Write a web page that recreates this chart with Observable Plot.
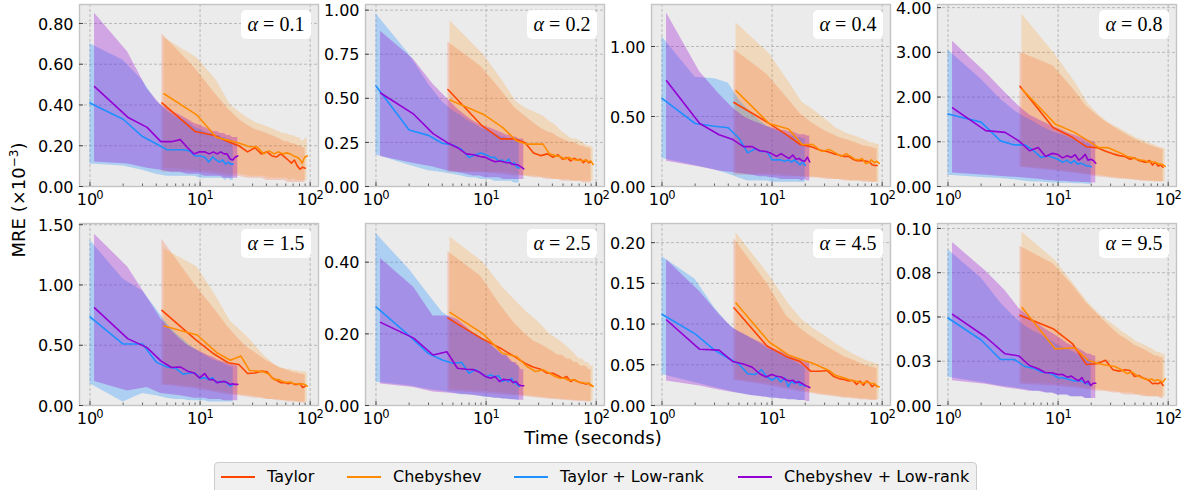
<!DOCTYPE html>
<html>
<head>
<meta charset="utf-8">
<script src="https://cdn.jsdelivr.net/npm/d3@7"></script>
<script src="https://cdn.jsdelivr.net/npm/@observablehq/plot@0.6"></script>
<style>
html, body { margin: 0; padding: 0; background: #fff; }
#root { position: relative; width: 1188px; height: 490px; overflow: hidden; font-family: "DejaVu Sans", sans-serif; color: #000; }
.panel { position: absolute; }
.alpha { position: absolute; width: 70px; height: 29px; background: #fff; border-radius: 5px; font-family: "Liberation Serif", serif; font-size: 20px; line-height: 29px; text-align: center; white-space: nowrap; }
.ylab { position: absolute; left: 18px; top: 200px; transform: translate(-50%, -50%) rotate(-90deg); font-size: 18px; white-space: nowrap; }
.xlab { position: absolute; left: 593px; top: 437px; transform: translate(-50%, -50%); font-size: 18px; white-space: nowrap; }
.legend { position: absolute; left: 214px; top: 462px; width: 763px; height: 34px; box-sizing: border-box; border: 1px solid #cccccc; border-radius: 4px; background: #f0f0f0; white-space: nowrap; }
.legend .sw { position: absolute; top: 13px; width: 34px; height: 2px; }
.legend .tx { position: absolute; top: 4px; font-size: 16px; line-height: 20px; white-space: nowrap; }
</style>
</head>
<body>
<div id="root"></div>
<script>
// ---------------- data ----------------
const seriesNames = ["Taylor", "Chebyshev", "Taylor + Low-rank", "Chebyshev + Low-rank"];
const seriesColors = ["#ff4500", "#ff8c00", "#1e90ff", "#9400d3"];
const alphaLabels = ["0.1", "0.2", "0.4", "0.8", "1.5", "2.5", "4.5", "9.5"];

const xTaylor = [4.5, 9, 13.5, 18, 22.5, 27, 31.5, 36, 40.5, 45, 49.5, 54, 58.5, 63, 67.5, 72, 76.5, 81, 85.5, 90];
const xCheb = [4.7, 9.4, 14.1, 18.8, 23.5, 28.2, 32.9, 37.6, 42.3, 47, 51.7, 56.4, 61.1, 65.8, 70.5, 75.2, 79.9, 84.6, 89.3, 94];
const xTaylorLR = [1, 2, 3, 4, 5, 6, 7, 8, 9, 10, 11, 12, 13, 14, 15, 16, 17, 18, 19, 20];
const xChebLR = [1.1, 2.2, 3.3, 4.4, 5.5, 6.6, 7.7, 8.8, 9.9, 11, 12.1, 13.2, 14.3, 15.4, 16.5, 17.6, 18.7, 19.8, 20.9, 22];

const meanTaylor = [
  [0.41, 0.27, 0.25, 0.22, 0.20, 0.17, 0.19, 0.16, 0.17, 0.15, 0.145, 0.16, 0.145, 0.13, 0.115, 0.13, 0.10, 0.085, 0.095, 0.09],
  [0.55, 0.35, 0.27, 0.27, 0.25, 0.19, 0.175, 0.185, 0.165, 0.18, 0.155, 0.165, 0.145, 0.16, 0.15, 0.155, 0.135, 0.15, 0.135, 0.14],
  [0.60, 0.46, 0.37, 0.30, 0.285, 0.26, 0.25, 0.235, 0.225, 0.215, 0.215, 0.195, 0.185, 0.185, 0.185, 0.18, 0.175, 0.155, 0.15, 0.15],
  [2.24, 1.32, 1.10, 0.89, 0.87, 0.79, 0.73, 0.69, 0.67, 0.61, 0.64, 0.58, 0.56, 0.54, 0.58, 0.48, 0.54, 0.46, 0.48, 0.43],
  [0.79, 0.55, 0.425, 0.355, 0.34, 0.265, 0.27, 0.285, 0.28, 0.23, 0.21, 0.19, 0.19, 0.18, 0.19, 0.175, 0.175, 0.18, 0.15, 0.16],
  [0.244, 0.188, 0.16, 0.137, 0.118, 0.107, 0.101, 0.09, 0.09, 0.083, 0.076, 0.081, 0.067, 0.072, 0.067, 0.064, 0.062, 0.06, 0.062, 0.055],
  [0.12, 0.073, 0.06, 0.054, 0.042, 0.042, 0.043, 0.036, 0.033, 0.032, 0.030, 0.031, 0.026, 0.030, 0.025, 0.030, 0.028, 0.023, 0.026, 0.0235],
  [0.051, 0.0434, 0.035, 0.0232, 0.0236, 0.0255, 0.0202, 0.0194, 0.0202, 0.0198, 0.0164, 0.017, 0.0157, 0.015, 0.014, 0.0123, 0.0126, 0.0123, 0.0132, 0.0113]
];
const loTaylor = [
  [0.07, 0.07, 0.06, 0.05, 0.05, 0.04, 0.04, 0.04, 0.03, 0.03, 0.03, 0.03, 0.03, 0.02, 0.02, 0.02, 0.02, 0.02, 0.02, 0.02],
  [0.08, 0.08, 0.07, 0.06, 0.06, 0.05, 0.05, 0.04, 0.04, 0.04, 0.03, 0.03, 0.03, 0.03, 0.03, 0.03, 0.02, 0.02, 0.02, 0.02],
  [0.08, 0.08, 0.07, 0.07, 0.06, 0.06, 0.05, 0.05, 0.05, 0.04, 0.04, 0.04, 0.04, 0.04, 0.03, 0.03, 0.03, 0.03, 0.03, 0.03],
  [0.43, 0.35, 0.30, 0.26, 0.22, 0.20, 0.18, 0.17, 0.16, 0.15, 0.14, 0.13, 0.12, 0.12, 0.11, 0.11, 0.10, 0.10, 0.10, 0.10],
  [0.17, 0.14, 0.11, 0.09, 0.08, 0.07, 0.06, 0.06, 0.05, 0.05, 0.04, 0.04, 0.04, 0.03, 0.03, 0.03, 0.03, 0.02, 0.02, 0.02],
  [0.040, 0.035, 0.030, 0.028, 0.025, 0.022, 0.020, 0.018, 0.017, 0.016, 0.015, 0.014, 0.013, 0.012, 0.012, 0.011, 0.011, 0.010, 0.010, 0.010],
  [0.031, 0.025, 0.020, 0.017, 0.015, 0.013, 0.012, 0.011, 0.010, 0.009, 0.009, 0.008, 0.008, 0.007, 0.007, 0.007, 0.006, 0.006, 0.006, 0.006],
  [0.012, 0.011, 0.010, 0.009, 0.008, 0.008, 0.007, 0.007, 0.006, 0.006, 0.006, 0.006, 0.005, 0.005, 0.005, 0.005, 0.005, 0.005, 0.004, 0.004]
];
const hiTaylor = [
  [0.75, 0.58, 0.46, 0.38, 0.33, 0.30, 0.28, 0.27, 0.26, 0.25, 0.24, 0.23, 0.22, 0.22, 0.21, 0.21, 0.20, 0.20, 0.19, 0.19],
  [0.82, 0.68, 0.55, 0.45, 0.40, 0.36, 0.33, 0.31, 0.30, 0.28, 0.27, 0.26, 0.25, 0.25, 0.24, 0.23, 0.23, 0.22, 0.22, 0.21],
  [0.98, 0.80, 0.64, 0.52, 0.46, 0.42, 0.39, 0.37, 0.35, 0.34, 0.33, 0.32, 0.31, 0.30, 0.29, 0.29, 0.28, 0.28, 0.27, 0.27],
  [3.00, 2.70, 2.20, 1.80, 1.60, 1.45, 1.35, 1.25, 1.18, 1.12, 1.06, 1.02, 0.98, 0.95, 0.92, 0.90, 0.88, 0.86, 0.84, 0.82],
  [1.38, 1.00, 0.80, 0.65, 0.55, 0.48, 0.44, 0.40, 0.37, 0.35, 0.33, 0.31, 0.30, 0.29, 0.28, 0.27, 0.27, 0.26, 0.26, 0.25],
  [0.43, 0.36, 0.28, 0.23, 0.20, 0.18, 0.17, 0.16, 0.15, 0.14, 0.14, 0.13, 0.13, 0.12, 0.12, 0.11, 0.11, 0.11, 0.10, 0.10],
  [0.205, 0.15, 0.11, 0.095, 0.085, 0.078, 0.072, 0.068, 0.064, 0.060, 0.058, 0.056, 0.054, 0.052, 0.050, 0.049, 0.048, 0.047, 0.046, 0.045],
  [0.090, 0.080, 0.068, 0.058, 0.052, 0.047, 0.043, 0.040, 0.038, 0.036, 0.034, 0.033, 0.032, 0.031, 0.030, 0.029, 0.028, 0.028, 0.027, 0.027]
];

const meanCheb = [
  [0.455, 0.35, 0.24, 0.225, 0.21, 0.195, 0.195, 0.16, 0.175, 0.16, 0.17, 0.16, 0.165, 0.16, 0.15, 0.145, 0.135, 0.115, 0.145, 0.15],
  [0.49, 0.41, 0.335, 0.26, 0.24, 0.24, 0.24, 0.185, 0.175, 0.17, 0.155, 0.165, 0.155, 0.15, 0.15, 0.145, 0.15, 0.14, 0.145, 0.125],
  [0.685, 0.45, 0.41, 0.30, 0.30, 0.25, 0.265, 0.24, 0.215, 0.235, 0.215, 0.195, 0.19, 0.20, 0.165, 0.17, 0.19, 0.17, 0.18, 0.165],
  [2.18, 1.40, 1.21, 1.02, 0.87, 0.87, 0.80, 0.74, 0.67, 0.65, 0.61, 0.59, 0.58, 0.54, 0.56, 0.54, 0.52, 0.50, 0.49, 0.45],
  [0.66, 0.585, 0.44, 0.375, 0.41, 0.29, 0.285, 0.28, 0.26, 0.215, 0.215, 0.20, 0.19, 0.195, 0.18, 0.18, 0.175, 0.18, 0.175, 0.16],
  [0.26, 0.20, 0.146, 0.137, 0.109, 0.095, 0.10, 0.09, 0.081, 0.076, 0.076, 0.07, 0.072, 0.07, 0.064, 0.064, 0.062, 0.062, 0.058, 0.053],
  [0.126, 0.078, 0.062, 0.056, 0.052, 0.047, 0.043, 0.037, 0.035, 0.033, 0.031, 0.030, 0.029, 0.027, 0.029, 0.028, 0.027, 0.027, 0.0235, 0.023],
  [0.0553, 0.032, 0.0326, 0.0255, 0.0236, 0.0226, 0.022, 0.0202, 0.018, 0.0189, 0.017, 0.016, 0.015, 0.0145, 0.015, 0.014, 0.0145, 0.014, 0.0132, 0.015]
];
const loCheb = [
  [0.09, 0.08, 0.07, 0.06, 0.06, 0.05, 0.05, 0.05, 0.04, 0.04, 0.04, 0.04, 0.04, 0.03, 0.04, 0.03, 0.03, 0.03, 0.03, 0.03],
  [0.09, 0.08, 0.08, 0.07, 0.06, 0.06, 0.05, 0.05, 0.04, 0.04, 0.04, 0.04, 0.03, 0.03, 0.03, 0.03, 0.03, 0.03, 0.03, 0.03],
  [0.09, 0.09, 0.08, 0.07, 0.07, 0.06, 0.06, 0.05, 0.05, 0.05, 0.04, 0.04, 0.04, 0.04, 0.04, 0.04, 0.03, 0.03, 0.03, 0.03],
  [0.45, 0.38, 0.32, 0.28, 0.25, 0.22, 0.20, 0.18, 0.17, 0.16, 0.15, 0.14, 0.13, 0.13, 0.12, 0.12, 0.11, 0.11, 0.11, 0.10],
  [0.18, 0.15, 0.12, 0.10, 0.09, 0.08, 0.07, 0.06, 0.05, 0.05, 0.05, 0.04, 0.04, 0.04, 0.04, 0.03, 0.03, 0.03, 0.03, 0.03],
  [0.045, 0.040, 0.035, 0.030, 0.027, 0.025, 0.022, 0.020, 0.019, 0.018, 0.017, 0.016, 0.015, 0.014, 0.014, 0.013, 0.013, 0.012, 0.012, 0.012],
  [0.032, 0.027, 0.022, 0.019, 0.016, 0.014, 0.013, 0.012, 0.011, 0.010, 0.010, 0.009, 0.009, 0.008, 0.008, 0.008, 0.007, 0.007, 0.007, 0.007],
  [0.013, 0.012, 0.011, 0.010, 0.009, 0.008, 0.008, 0.007, 0.007, 0.007, 0.006, 0.006, 0.006, 0.005, 0.005, 0.005, 0.005, 0.005, 0.005, 0.005]
];
const hiCheb = [
  [0.73, 0.63, 0.52, 0.40, 0.36, 0.33, 0.31, 0.30, 0.29, 0.28, 0.27, 0.26, 0.26, 0.25, 0.25, 0.24, 0.24, 0.22, 0.23, 0.24],
  [0.94, 0.75, 0.60, 0.48, 0.44, 0.42, 0.40, 0.37, 0.35, 0.32, 0.30, 0.28, 0.27, 0.27, 0.26, 0.25, 0.24, 0.23, 0.23, 0.22],
  [1.17, 0.95, 0.75, 0.60, 0.55, 0.50, 0.46, 0.42, 0.40, 0.38, 0.37, 0.36, 0.35, 0.34, 0.33, 0.32, 0.31, 0.31, 0.30, 0.30],
  [3.85, 2.95, 2.35, 1.85, 1.60, 1.45, 1.35, 1.28, 1.20, 1.14, 1.08, 1.05, 1.02, 0.98, 0.95, 0.93, 0.90, 0.88, 0.86, 0.85],
  [1.30, 1.15, 0.90, 0.70, 0.62, 0.55, 0.48, 0.42, 0.38, 0.34, 0.32, 0.31, 0.30, 0.30, 0.29, 0.29, 0.28, 0.28, 0.28, 0.27],
  [0.47, 0.40, 0.33, 0.29, 0.26, 0.24, 0.22, 0.20, 0.19, 0.18, 0.17, 0.16, 0.15, 0.14, 0.13, 0.13, 0.12, 0.12, 0.11, 0.11],
  [0.212, 0.16, 0.125, 0.105, 0.095, 0.088, 0.082, 0.076, 0.072, 0.068, 0.065, 0.062, 0.060, 0.058, 0.056, 0.054, 0.053, 0.052, 0.051, 0.050],
  [0.098, 0.082, 0.068, 0.058, 0.052, 0.048, 0.045, 0.042, 0.040, 0.038, 0.036, 0.035, 0.034, 0.033, 0.032, 0.031, 0.030, 0.030, 0.029, 0.029]
];

const meanTaylorLR = [
  [0.41, 0.33, 0.245, 0.21, 0.18, 0.18, 0.18, 0.175, 0.15, 0.15, 0.145, 0.12, 0.145, 0.13, 0.12, 0.13, 0.11, 0.12, 0.11, 0.11],
  [0.57, 0.32, 0.29, 0.245, 0.235, 0.21, 0.165, 0.18, 0.19, 0.18, 0.165, 0.165, 0.145, 0.15, 0.135, 0.155, 0.125, 0.135, 0.11, 0.105],
  [0.63, 0.45, 0.43, 0.42, 0.345, 0.24, 0.27, 0.25, 0.25, 0.19, 0.19, 0.19, 0.18, 0.19, 0.175, 0.19, 0.17, 0.155, 0.175, 0.15],
  [1.62, 1.44, 1.02, 0.93, 0.93, 0.80, 0.65, 0.69, 0.65, 0.61, 0.54, 0.59, 0.52, 0.58, 0.50, 0.52, 0.50, 0.46, 0.46, 0.44],
  [0.735, 0.51, 0.51, 0.36, 0.32, 0.31, 0.26, 0.27, 0.27, 0.225, 0.23, 0.215, 0.23, 0.19, 0.20, 0.195, 0.20, 0.175, 0.16, 0.175],
  [0.275, 0.195, 0.145, 0.127, 0.118, 0.12, 0.09, 0.10, 0.09, 0.08, 0.085, 0.08, 0.083, 0.067, 0.072, 0.067, 0.076, 0.064, 0.06, 0.053],
  [0.112, 0.088, 0.068, 0.058, 0.051, 0.039, 0.038, 0.044, 0.035, 0.031, 0.035, 0.029, 0.034, 0.023, 0.030, 0.027, 0.030, 0.025, 0.026, 0.0235],
  [0.0494, 0.037, 0.026, 0.026, 0.022, 0.021, 0.019, 0.0185, 0.0175, 0.0157, 0.0157, 0.015, 0.0145, 0.0138, 0.0138, 0.014, 0.0132, 0.0123, 0.0123, 0.0113]
];
const loTaylorLR = [
  [0.11, 0.10, 0.08, 0.06, 0.05, 0.05, 0.05, 0.05, 0.05, 0.04, 0.04, 0.04, 0.04, 0.04, 0.04, 0.04, 0.03, 0.04, 0.03, 0.03],
  [0.18, 0.12, 0.09, 0.08, 0.07, 0.06, 0.05, 0.05, 0.04, 0.04, 0.04, 0.03, 0.03, 0.03, 0.03, 0.03, 0.03, 0.02, 0.02, 0.02],
  [0.20, 0.15, 0.12, 0.09, 0.06, 0.04, 0.04, 0.04, 0.04, 0.03, 0.03, 0.03, 0.03, 0.03, 0.03, 0.03, 0.03, 0.03, 0.03, 0.03],
  [0.25, 0.20, 0.18, 0.15, 0.12, 0.10, 0.10, 0.09, 0.08, 0.08, 0.07, 0.07, 0.07, 0.06, 0.06, 0.06, 0.06, 0.05, 0.05, 0.05],
  [0.18, 0.03, 0.10, 0.08, 0.06, 0.05, 0.05, 0.04, 0.04, 0.04, 0.04, 0.03, 0.03, 0.03, 0.03, 0.03, 0.03, 0.03, 0.03, 0.03],
  [0.065, 0.055, 0.045, 0.040, 0.035, 0.030, 0.030, 0.028, 0.025, 0.022, 0.022, 0.020, 0.020, 0.018, 0.018, 0.017, 0.016, 0.016, 0.015, 0.015],
  [0.038, 0.028, 0.022, 0.018, 0.015, 0.013, 0.012, 0.011, 0.010, 0.009, 0.009, 0.008, 0.008, 0.007, 0.007, 0.007, 0.006, 0.006, 0.006, 0.006],
  [0.016, 0.013, 0.011, 0.010, 0.009, 0.008, 0.008, 0.007, 0.007, 0.006, 0.006, 0.006, 0.005, 0.005, 0.005, 0.005, 0.005, 0.004, 0.004, 0.004]
];
const hiTaylorLR = [
  [0.70, 0.62, 0.52, 0.42, 0.37, 0.34, 0.33, 0.31, 0.29, 0.28, 0.27, 0.26, 0.26, 0.25, 0.25, 0.24, 0.24, 0.23, 0.23, 0.22],
  [0.98, 0.75, 0.58, 0.48, 0.43, 0.40, 0.37, 0.35, 0.33, 0.32, 0.31, 0.30, 0.29, 0.28, 0.28, 0.27, 0.27, 0.26, 0.26, 0.25],
  [1.07, 0.78, 0.77, 0.74, 0.62, 0.55, 0.50, 0.46, 0.43, 0.41, 0.40, 0.39, 0.38, 0.37, 0.36, 0.36, 0.35, 0.35, 0.34, 0.34],
  [3.05, 2.40, 1.95, 1.70, 1.55, 1.45, 1.35, 1.28, 1.22, 1.18, 1.15, 1.12, 1.08, 1.05, 1.03, 1.00, 0.98, 0.96, 0.95, 0.93],
  [1.37, 1.05, 0.95, 0.80, 0.68, 0.60, 0.55, 0.50, 0.47, 0.44, 0.42, 0.40, 0.38, 0.37, 0.36, 0.35, 0.34, 0.33, 0.32, 0.32],
  [0.48, 0.38, 0.31, 0.26, 0.24, 0.22, 0.21, 0.20, 0.19, 0.18, 0.17, 0.16, 0.15, 0.14, 0.14, 0.13, 0.12, 0.12, 0.11, 0.11],
  [0.183, 0.155, 0.12, 0.10, 0.09, 0.085, 0.08, 0.075, 0.07, 0.068, 0.065, 0.062, 0.06, 0.058, 0.056, 0.054, 0.052, 0.05, 0.048, 0.047],
  [0.088, 0.072, 0.058, 0.050, 0.045, 0.042, 0.040, 0.038, 0.036, 0.034, 0.033, 0.032, 0.031, 0.030, 0.029, 0.028, 0.027, 0.027, 0.026, 0.026]
];

const meanChebLR = [
  [0.49, 0.34, 0.29, 0.22, 0.22, 0.23, 0.19, 0.16, 0.17, 0.17, 0.16, 0.17, 0.16, 0.17, 0.16, 0.16, 0.135, 0.13, 0.145, 0.15],
  [0.53, 0.41, 0.30, 0.25, 0.22, 0.185, 0.18, 0.17, 0.165, 0.15, 0.14, 0.145, 0.14, 0.135, 0.135, 0.125, 0.125, 0.12, 0.11, 0.10],
  [0.755, 0.45, 0.37, 0.335, 0.285, 0.285, 0.255, 0.25, 0.235, 0.215, 0.235, 0.215, 0.20, 0.225, 0.195, 0.20, 0.185, 0.18, 0.21, 0.175],
  [1.76, 1.25, 1.21, 1.02, 0.80, 0.87, 0.67, 0.74, 0.72, 0.64, 0.69, 0.65, 0.71, 0.59, 0.64, 0.72, 0.59, 0.61, 0.58, 0.52],
  [0.81, 0.555, 0.48, 0.37, 0.315, 0.32, 0.285, 0.27, 0.23, 0.265, 0.215, 0.215, 0.19, 0.195, 0.20, 0.19, 0.175, 0.18, 0.175, 0.175],
  [0.232, 0.188, 0.141, 0.15, 0.104, 0.101, 0.10, 0.092, 0.081, 0.076, 0.081, 0.067, 0.073, 0.072, 0.072, 0.064, 0.067, 0.058, 0.055, 0.055],
  [0.105, 0.069, 0.068, 0.054, 0.051, 0.047, 0.039, 0.035, 0.038, 0.036, 0.035, 0.032, 0.030, 0.031, 0.028, 0.029, 0.027, 0.025, 0.0235, 0.022],
  [0.0515, 0.0387, 0.0292, 0.028, 0.0226, 0.0208, 0.0185, 0.0185, 0.0175, 0.0175, 0.016, 0.0166, 0.015, 0.014, 0.0157, 0.0126, 0.0138, 0.0113, 0.0126, 0.0126]
];
const loChebLR = [
  [0.12, 0.11, 0.09, 0.08, 0.07, 0.07, 0.06, 0.06, 0.06, 0.05, 0.05, 0.05, 0.05, 0.05, 0.04, 0.04, 0.04, 0.04, 0.04, 0.04],
  [0.17, 0.13, 0.11, 0.09, 0.08, 0.07, 0.06, 0.06, 0.05, 0.05, 0.05, 0.05, 0.04, 0.04, 0.04, 0.04, 0.04, 0.04, 0.04, 0.04],
  [0.18, 0.14, 0.11, 0.10, 0.09, 0.08, 0.07, 0.07, 0.06, 0.06, 0.05, 0.05, 0.05, 0.05, 0.05, 0.05, 0.04, 0.05, 0.04, 0.04],
  [0.30, 0.25, 0.22, 0.20, 0.18, 0.16, 0.14, 0.13, 0.12, 0.12, 0.11, 0.10, 0.10, 0.10, 0.09, 0.09, 0.09, 0.08, 0.08, 0.08],
  [0.20, 0.12, 0.15, 0.10, 0.09, 0.08, 0.07, 0.06, 0.06, 0.06, 0.05, 0.05, 0.05, 0.05, 0.04, 0.04, 0.04, 0.04, 0.04, 0.04],
  [0.060, 0.050, 0.038, 0.035, 0.032, 0.030, 0.028, 0.026, 0.024, 0.022, 0.020, 0.020, 0.018, 0.018, 0.017, 0.016, 0.016, 0.015, 0.015, 0.015],
  [0.030, 0.024, 0.019, 0.016, 0.014, 0.012, 0.011, 0.010, 0.009, 0.009, 0.008, 0.008, 0.007, 0.007, 0.007, 0.006, 0.006, 0.006, 0.005, 0.005],
  [0.014, 0.012, 0.010, 0.009, 0.008, 0.008, 0.007, 0.007, 0.006, 0.006, 0.006, 0.005, 0.005, 0.005, 0.005, 0.004, 0.004, 0.004, 0.004, 0.004]
];
const hiChebLR = [
  [0.85, 0.66, 0.48, 0.40, 0.37, 0.35, 0.33, 0.31, 0.30, 0.29, 0.28, 0.27, 0.27, 0.26, 0.26, 0.25, 0.25, 0.24, 0.24, 0.24],
  [0.88, 0.72, 0.58, 0.50, 0.44, 0.40, 0.37, 0.35, 0.34, 0.33, 0.32, 0.31, 0.30, 0.29, 0.29, 0.28, 0.28, 0.27, 0.27, 0.27],
  [1.24, 0.82, 0.66, 0.56, 0.50, 0.47, 0.45, 0.43, 0.42, 0.41, 0.40, 0.40, 0.39, 0.39, 0.38, 0.37, 0.37, 0.37, 0.36, 0.36],
  [3.25, 2.55, 2.10, 1.80, 1.60, 1.50, 1.42, 1.35, 1.30, 1.25, 1.20, 1.17, 1.14, 1.11, 1.08, 1.06, 1.04, 1.02, 1.00, 0.98],
  [1.42, 1.15, 0.90, 0.72, 0.62, 0.55, 0.50, 0.47, 0.45, 0.43, 0.41, 0.40, 0.38, 0.37, 0.36, 0.35, 0.34, 0.34, 0.33, 0.33],
  [0.41, 0.33, 0.25, 0.25, 0.24, 0.22, 0.20, 0.19, 0.18, 0.17, 0.16, 0.15, 0.14, 0.14, 0.13, 0.12, 0.12, 0.11, 0.10, 0.10],
  [0.179, 0.14, 0.112, 0.095, 0.088, 0.082, 0.078, 0.074, 0.071, 0.068, 0.066, 0.064, 0.062, 0.060, 0.058, 0.057, 0.055, 0.054, 0.053, 0.052],
  [0.092, 0.076, 0.065, 0.055, 0.050, 0.046, 0.043, 0.041, 0.039, 0.037, 0.035, 0.034, 0.033, 0.032, 0.031, 0.030, 0.029, 0.029, 0.028, 0.028]
];

const yMax = [0.893, 1.032, 1.30, 4.07, 1.51, 0.508, 0.2235, 0.1028];
const yTicks = [
  [0, 0.2, 0.4, 0.6, 0.8], [0, 0.25, 0.5, 0.75, 1], [0, 0.5, 1], [0, 1, 2, 3, 4],
  [0, 0.5, 1, 1.5], [0, 0.2, 0.4], [0, 0.05, 0.1, 0.15, 0.2], [0, 0.025, 0.05, 0.075, 0.1]
];
const yTickLabels = [
  ["0.00", "0.20", "0.40", "0.60", "0.80"], ["0.00", "0.25", "0.50", "0.75", "1.00"], ["0.00", "0.50", "1.00"], ["0.00", "1.00", "2.00", "3.00", "4.00"],
  ["0.00", "0.50", "1.00", "1.50"], ["0.00", "0.20", "0.40"], ["0.00", "0.05", "0.10", "0.15", "0.20"], ["0.00", "0.03", "0.05", "0.08", "0.10"]
];
const xTicks = [1, 10, 100];
const xTickBase = "10";
const xTickExponents = ["0", "1", "2"];
const xMinorTicks = [2, 3, 4, 5, 6, 7, 8, 9, 20, 30, 40, 50, 60, 70, 80, 90];
const xDomain = [0.803, 119];

// ---------------- layout ----------------
const FW = 239, FH = 182;
const ML = 56, MR = 16, MT = 4, MB = 28;
const colLeft = [79, 365, 651, 937];
const rowTop = [4, 223];
const bandOpacity = [0.2, 0.2, 0.3, 0.3];
const legendItemLeft = [6, 132, 299, 523];

const root = document.getElementById("root");

function makePanel(p) {
  const means = [meanTaylor[p], meanCheb[p], meanTaylorLR[p], meanChebLR[p]];
  const los = [loTaylor[p], loCheb[p], loTaylorLR[p], loChebLR[p]];
  const his = [hiTaylor[p], hiCheb[p], hiTaylorLR[p], hiChebLR[p]];
  const xs = [xTaylor, xCheb, xTaylorLR, xChebLR];
  const tables = xs.map((xa, s) => xa.map((x, k) => ({x, mean: means[s][k], lo: los[s][k], hi: his[s][k]})));
  const yLabelMap = new Map(yTicks[p].map((t, i) => [t, yTickLabels[p][i]]));
  const xExpMap = new Map(xTicks.map((t, i) => [t, xTickExponents[i]]));
  const gridStyle = {stroke: "#b3b3b3", strokeOpacity: 1, strokeWidth: 0.9, strokeDasharray: "3,2"};

  const marks = [
    Plot.frame({fill: "#ebebeb", stroke: null}),
    Plot.gridX(xTicks, gridStyle),
    Plot.gridY(yTicks[p], gridStyle)
  ];
  tables.forEach((t, s) => marks.push(Plot.areaY(t, {x: "x", y1: "lo", y2: "hi", fill: seriesColors[s], fillOpacity: bandOpacity[s], curve: "linear"})));
  tables.forEach((t, s) => marks.push(Plot.lineY(t, {x: "x", y: "mean", stroke: seriesColors[s], strokeWidth: 1.6})));
  marks.push(Plot.frame({stroke: "#c4c4c4", strokeWidth: 1.4}));
  marks.push(Plot.axisX(xTicks, {tickSize: -4, tickFormat: () => "", label: null, stroke: "#444"}));
  marks.push(Plot.axisX(xMinorTicks, {tickSize: -2.5, tickFormat: () => "", label: null, stroke: "#444", strokeWidth: 0.8}));
  marks.push(Plot.axisX(xTicks, {tickSize: 0, tickPadding: 7, dx: -3, tickFormat: () => xTickBase, label: null, fontSize: 16, fill: "#000"}));
  marks.push(Plot.axisX(xTicks, {tickSize: 0, tickPadding: 4, dx: 10, tickFormat: d => xExpMap.get(d), label: null, fontSize: 11.5, fill: "#000"}));
  marks.push(Plot.axisY(yTicks[p], {tickSize: -4, tickFormat: () => "", label: null, stroke: "#444"}));
  marks.push(Plot.axisY(yTicks[p], {tickSize: 0, tickPadding: 6, dy: 1, tickFormat: d => yLabelMap.get(d), label: null, fontSize: 16, fill: "#000"}));

  const chart = Plot.plot({
    width: FW + ML + MR,
    height: FH + MT + MB,
    marginLeft: ML, marginRight: MR, marginTop: MT, marginBottom: MB,
    x: {type: "log", domain: xDomain},
    y: {domain: [0, yMax[p]]},
    style: {fontFamily: "DejaVu Sans", fontSize: "16px", color: "#000", background: "transparent", overflow: "visible"},
    marks
  });
  const col = p % 4, row = Math.floor(p / 4);
  const div = document.createElement("div");
  div.className = "panel";
  div.style.left = (colLeft[col] - ML) + "px";
  div.style.top = (rowTop[row] - MT) + "px";
  div.style.width = (FW + ML + MR) + "px";
  div.appendChild(chart);
  root.appendChild(div);

  const box = document.createElement("div");
  box.className = "alpha";
  box.style.left = (colLeft[col] + FW - 7 - 70) + "px";
  box.style.top = (rowTop[row] + 6) + "px";
  box.innerHTML = '<i>α</i> = ' + alphaLabels[p];
  root.appendChild(box);
}

for (let p = 0; p < 8; p++) makePanel(p);

const ylab = document.createElement("div");
ylab.className = "ylab";
ylab.innerHTML = 'MRE (×10<sup style="font-size:12px">−3</sup>)';
root.appendChild(ylab);

const xlab = document.createElement("div");
xlab.className = "xlab";
xlab.textContent = "Time (seconds)";
root.appendChild(xlab);

const legend = document.createElement("div");
legend.className = "legend";
seriesNames.forEach((name, i) => {
  const sw = document.createElement("div");
  sw.className = "sw";
  sw.style.left = legendItemLeft[i] + "px";
  sw.style.background = seriesColors[i];
  const tx = document.createElement("div");
  tx.className = "tx";
  tx.style.left = (legendItemLeft[i] + 46) + "px";
  tx.textContent = name;
  legend.appendChild(sw);
  legend.appendChild(tx);
});
root.appendChild(legend);
</script>
</body>
</html>
